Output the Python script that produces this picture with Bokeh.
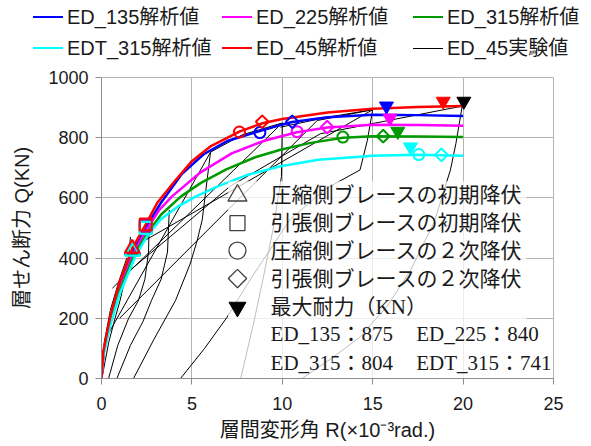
import math
from bokeh.plotting import figure
from bokeh.layouts import column
from bokeh.models import Range1d, FixedTicker, Label, Div
from bokeh.embed import file_html
from bokeh.resources import INLINE

# ---------------- data ----------------
x_ticks = [0, 5, 10, 15, 20, 25]
y_ticks = [0, 200, 400, 600, 800, 1000]

series = ["ED_135解析値", "ED_225解析値", "ED_315解析値", "EDT_315解析値", "ED_45解析値"]
exp_name = "ED_45実験値"
colors = ["#0000FF", "#FF00FF", "#009A00", "#00FFFF", "#FF0000"]

ed135_x = [0, 0.1, 0.5, 1.0, 1.75, 2.5, 3.3, 4.45, 5.65, 7.0, 8.75, 9.9, 10.55, 12.5, 15.0, 17.5, 20.0]
ed135_y = [0, 85, 200, 305, 425, 505, 585, 680, 745, 790, 822, 842, 852, 868, 876, 875, 872]
ed225_x = [0, 0.1, 0.5, 1.0, 1.75, 2.5, 3.2, 3.9, 5.48, 7.2, 9.0, 10.8, 12.5, 15.0, 17.5, 20.0]
ed225_y = [0, 80, 195, 300, 415, 495, 560, 605, 685, 748, 790, 818, 834, 843, 842, 840]
ed315_x = [0, 0.1, 0.5, 1.0, 1.8, 2.5, 3.3, 4.4, 5.5, 6.9, 8.5, 9.9, 11.5, 13.35, 15.0, 17.5, 20.0]
ed315_y = [0, 80, 190, 290, 410, 480, 545, 605, 650, 695, 735, 760, 782, 800, 805, 804, 802]
edt315_x = [0, 0.1, 0.5, 1.0, 1.9, 2.6, 3.3, 4.2, 5.2, 6.5, 8.0, 9.9, 12.0, 15.0, 17.5, 20.0]
edt315_y = [0, 75, 180, 280, 410, 480, 530, 570, 604, 640, 675, 705, 727, 740, 743, 740]
ed45_x = [0, 0.1, 0.5, 1.0, 1.7, 2.45, 3.1, 4.0, 5.0, 6.0, 7.65, 8.9, 10.0, 12.5, 15.0, 17.5, 20.0]
ed45_y = [0, 90, 210, 320, 432, 512, 585, 652, 722, 770, 821, 848, 862, 884, 896, 902, 905]

curves_x = [ed135_x, ed225_x, ed315_x, edt315_x, ed45_x]
curves_y = [ed135_y, ed225_y, ed315_y, edt315_y, ed45_y]

# yield / max points (order: ED_135, ED_225, ED_315, EDT_315, ED_45)
comp1_x = [1.72, 1.72, 1.72, 1.72, 1.70]
comp1_y = [428, 426, 424, 422, 432]
tens1_x = [2.45, 2.45, 2.45, 2.45, 2.45]
tens1_y = [508, 505, 502, 500, 512]
comp2_x = [8.76, 10.82, 13.35, 17.55, 7.63]
comp2_y = [817, 820, 802, 744, 819]
tens2_x = [10.55, 12.48, 15.58, 18.8, 8.89]
tens2_y = [853, 835, 805, 743, 853]
max_x = [15.76, 15.95, 16.39, 17.09, 18.9, 20.04]
max_y = [905, 865, 821, 769, 921, 921]
max_colors = colors + ["#000000"]

# experimental hysteresis branches (ED_45)
exp_xs = [
    [0, 0.15, 0.5, 1.0, 1.4],
    [0.02, 0.4, 0.75, 1.03, 1.3, 1.5, 1.6],
    [0.39, 0.9, 1.5, 2.05, 2.4, 2.6, 2.65],
    [0.85, 1.6, 2.3, 2.77, 3.3, 3.65, 3.75],
    [1.77, 2.9, 4.1, 4.9, 5.3, 5.57, 6.03],
    [7.7, 8.4, 9.0, 9.5, 9.95, 10.0],
    [4.37, 5.7, 6.95, 8.24, 10.45, 12.4, 14.3, 14.7, 15.0],
    [11.1, 12.8, 14.3, 15.8, 17.1, 18.4, 19.3, 19.6, 19.95],
    [0.3, 6.03],
    [0.6, 10.0],
    [2.0, 15.0],
    [1.0, 11.93, 15.0],
    [1.5, 3.8, 7.1, 12.1, 19.95],
    [6.03, 7.8, 10.0],
    [9.9, 12.5, 15.0],
]
exp_ys = [
    [0, 120, 230, 330, 400],
    [0, 120, 200, 260, 330, 400, 470],
    [0, 110, 200, 260, 330, 420, 540],
    [0, 110, 190, 260, 330, 420, 560],
    [0, 130, 260, 380, 460, 527, 752],
    [0, 180, 350, 500, 670, 849],
    [0, 100, 204, 330, 530, 630, 693, 790, 893],
    [0, 70, 138, 240, 360, 520, 693, 780, 905],
    [140, 752],
    [300, 849],
    [445, 893],
    [200, 857, 893],
    [356, 471, 638, 813, 905],
    [752, 810, 849],
    [835, 868, 893],
]

note_rows = ["圧縮側ブレースの初期降伏", "引張側ブレースの初期降伏", "圧縮側ブレースの２次降伏",
             "引張側ブレースの２次降伏", "最大耐力（KN）"]
max_names = ["ED_135", "ED_225", "ED_315", "EDT_315"]
max_values = [875, 840, 804, 741]

# ---------------- styling ----------------
SANS = "'Liberation Sans', 'Noto Sans CJK JP'"
SERIF = "'Liberation Serif', 'Noto Sans CJK JP'"
GRID = "#b4b4b4"
W = 591
TOP_H = 60
MAIN_H = 386

# ---------- legend strip (HTML, two rows of three) ----------
leg_names = series + [exp_name]
leg_colors = colors + ["#000000"]
leg_widths = [2.5] * 5 + [1]
col_left = [33, 222, 413]
row_mid = [17, 48]
parts = []
for k, (name, c, lw) in enumerate(zip(leg_names, leg_colors, leg_widths)):
    r, cidx = divmod(k, 3)
    x0 = col_left[cidx]
    ym = row_mid[r]
    parts.append(
        f'<div style="position:absolute;left:{x0}px;top:{ym - lw / 2:.1f}px;width:30px;height:0;'
        f'border-top:{lw}px solid {c};"></div>')
    parts.append(
        f'<span style="position:absolute;left:{x0 + 34}px;top:{ym - 12}px;line-height:24px;'
        f'white-space:nowrap;">{name}</span>')
html = (f'<div style="position:relative;width:{W}px;height:{TOP_H}px;font-family:{SANS};'
        f'font-size:20px;color:#1a1a1a;">' + "".join(parts) + "</div>")
legend_div = Div(text=html, width=W, height=TOP_H, margin=0)

# ---------- main chart ----------
p = figure(width=W, height=MAIN_H, output_backend="svg", toolbar_location=None,
           x_range=Range1d(0, 25), y_range=Range1d(0, 1000),
           min_border_left=101, min_border_right=38, min_border_top=17, min_border_bottom=68,
           margin=0)
p.background_fill_color = "white"
p.border_fill_color = "white"
p.outline_line_color = GRID

p.xaxis.ticker = FixedTicker(ticks=x_ticks)
p.yaxis.ticker = FixedTicker(ticks=y_ticks)
for ax in (p.xaxis, p.yaxis):
    ax.minor_tick_line_color = None
    ax.major_tick_in = 0
    ax.major_tick_out = 6
    ax.axis_line_color = "#8c8c8c"
    ax.major_tick_line_color = "#8c8c8c"
    ax.major_label_text_font = SANS
    ax.major_label_text_font_size = "18px"
    ax.major_label_text_color = "#1a1a1a"
    ax.axis_label_text_font = SANS
    ax.axis_label_text_font_size = "20px"
    ax.axis_label_text_font_style = "normal"
    ax.axis_label_text_color = "#1a1a1a"
p.xaxis.major_label_standoff = 12
p.yaxis.major_label_standoff = 7
p.xaxis.axis_label = "層間変形角 R(×10⁻³rad.)"
p.yaxis.axis_label = "層せん断力 Q(KN)"
p.xaxis.axis_label_standoff = 6
p.yaxis.axis_label_standoff = 12
p.grid.grid_line_color = GRID
p.grid.grid_line_width = 1

# experimental curves
p.multi_line(xs=exp_xs, ys=exp_ys, line_color="black", line_width=1)

# analysis curves
for cx, cy, c in zip(curves_x, curves_y, colors):
    p.line(cx, cy, line_color=c, line_width=2.5)

# markers
p.scatter(comp1_x, comp1_y, marker="triangle", size=15, line_color=colors, fill_color=None, line_width=2)
p.scatter(tens1_x, tens1_y, marker="square", size=12, line_color=colors, fill_color=None, line_width=2)
p.scatter(comp2_x, comp2_y, marker="circle", size=11, line_color=colors, fill_color=None, line_width=2)
p.scatter(tens2_x, tens2_y, marker="square", angle=math.pi / 4, size=9, line_color=colors,
          fill_color=None, line_width=2)
p.scatter(max_x, max_y, marker="inverted_triangle", size=14, line_color=max_colors,
          fill_color=max_colors, line_width=1)

# semi-transparent note box
p.quad(left=[7.0], right=[23.5], bottom=[2], top=[655], fill_color="white", fill_alpha=0.75,
       line_color=None)

# note symbols and texts
row_y = [608, 516, 425, 332, 237, 148, 51]
sym_x = 7.52
SYM = "#404040"
p.scatter([sym_x], [row_y[0]], marker="triangle", size=19, line_color=SYM, fill_color=None, line_width=1.3)
p.scatter([sym_x], [row_y[1]], marker="square", size=15, line_color=SYM, fill_color=None, line_width=1.3)
p.scatter([sym_x], [row_y[2]], marker="circle", size=17, line_color=SYM, fill_color=None, line_width=1.3)
p.scatter([sym_x], [row_y[3]], marker="square", angle=math.pi / 4, size=13, line_color=SYM,
          fill_color=None, line_width=1.3)
p.scatter([sym_x], [row_y[4]], marker="inverted_triangle", size=17, line_color="black",
          fill_color="black")

for i, t in enumerate(note_rows):
    p.add_layout(Label(x=9.35, y=row_y[i], text=t, text_font=SERIF, text_font_size="21px",
                       text_baseline="middle", text_align="left", text_color="#1a1a1a"))
cols_x = [9.35, 17.41]
for i, (n, v) in enumerate(zip(max_names, max_values)):
    p.add_layout(Label(x=cols_x[i % 2], y=row_y[5 + i // 2], text=f"{n}：{v}", text_font=SERIF,
                       text_font_size="21px", text_baseline="middle", text_align="left",
                       text_color="#1a1a1a"))

layout = column(legend_div, p, spacing=0, margin=0)
open("out.html", "w").write(file_html(layout, INLINE))
